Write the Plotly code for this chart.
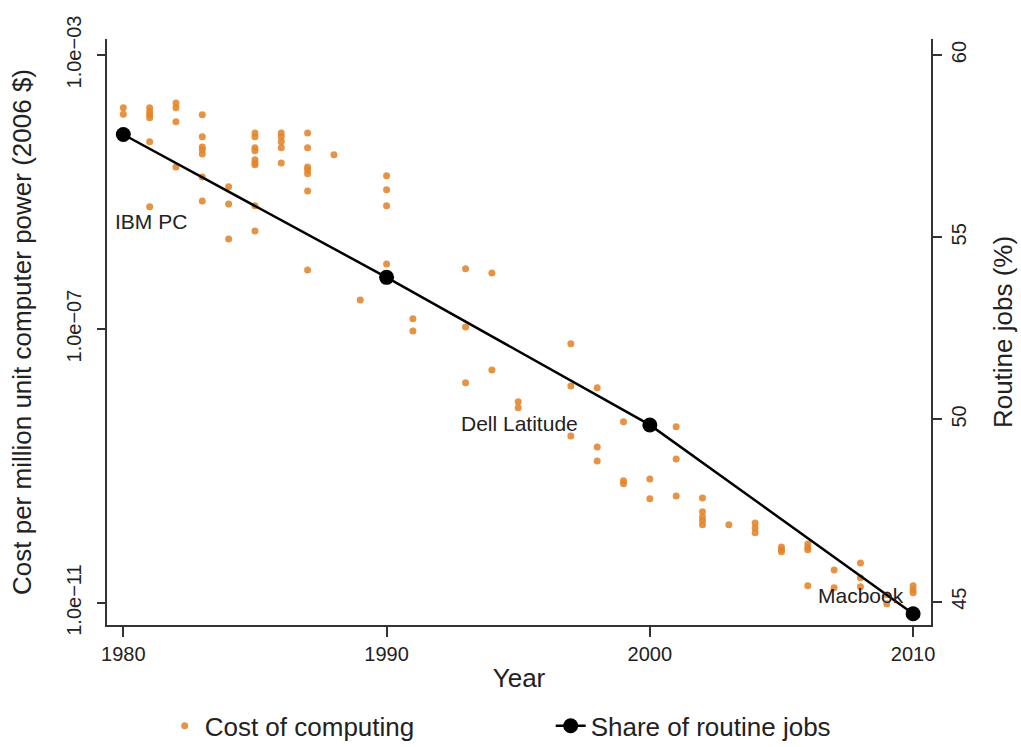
import plotly.graph_objects as go

# Cost of computing (2006 $ per million units of computer power), one entry per machine
cost_years = (
    [1980] * 2 + [1981] * 6 + [1982] * 4 + [1983] * 7 + [1984] * 3 + [1985] * 9 +
    [1986] * 5 + [1987] * 7 + [1988] * 1 + [1989] * 1 + [1990] * 4 + [1991] * 2 +
    [1993] * 3 + [1994] * 2 + [1995] * 2 + [1997] * 3 + [1998] * 3 + [1999] * 3 +
    [2000] * 2 + [2001] * 3 + [2002] * 5 + [2003] * 1 + [2004] * 3 + [2005] * 3 +
    [2006] * 4 + [2007] * 2 + [2008] * 3 + [2009] * 2 + [2010] * 3
)
cost_values = [
    1.7e-4, 1.37e-4,                                              # 1980
    1.7e-4, 1.48e-4, 1.34e-4, 1.21e-4, 5.4e-5, 6.1e-6,            # 1981
    2.0e-4, 1.7e-4, 1.06e-4, 2.32e-5,                             # 1982
    1.34e-4, 6.4e-5, 4.56e-5, 4.13e-5, 3.6e-5, 1.66e-5, 7.4e-6,   # 1983
    1.19e-5, 6.7e-6, 2.06e-6,                                     # 1984
    7.3e-5, 6.4e-5, 4.42e-5, 4.0e-5, 2.95e-5, 2.66e-5, 2.5e-5, 6.3e-6, 2.7e-6,  # 1985
    7.3e-5, 6.4e-5, 5.4e-5, 4.42e-5, 2.66e-5,                     # 1986
    7.3e-5, 4.42e-5, 2.33e-5, 2.12e-5, 1.85e-5, 1.04e-5, 7.3e-7,  # 1987
    3.5e-5,                                                       # 1988
    2.66e-7,                                                      # 1989
    1.73e-5, 1.08e-5, 6.3e-6, 8.9e-7,                             # 1990
    1.41e-7, 9.4e-8,                                              # 1991
    7.6e-7, 1.07e-7, 1.64e-8,                                     # 1993
    6.6e-7, 2.53e-8,                                              # 1994
    8.7e-9, 7.1e-9,                                               # 1995
    6.1e-8, 1.48e-8, 2.75e-9,                                     # 1997
    1.39e-8, 1.9e-9, 1.19e-9,                                     # 1998
    4.42e-9, 6.1e-10, 5.5e-10,                                    # 1999
    6.5e-10, 3.32e-10,                                            # 2000
    3.74e-9, 1.27e-9, 3.67e-10,                                   # 2001
    3.43e-10, 2.15e-10, 1.81e-10, 1.59e-10, 1.39e-10,             # 2002
    1.39e-10,                                                     # 2003
    1.48e-10, 1.25e-10, 1.06e-10,                                 # 2004
    6.6e-11, 6.0e-11, 5.6e-11,                                    # 2005
    7.3e-11, 6.4e-11, 6.0e-11, 1.79e-11,                          # 2006
    3.05e-11, 1.67e-11,                                           # 2007
    3.86e-11, 2.34e-11, 1.73e-11,                                 # 2008
    1.32e-11, 9.8e-12,                                            # 2009
    1.79e-11, 1.56e-11, 1.41e-11,                                 # 2010
]

# Share of routine jobs (%)
routine_years = [1980, 1990, 2000, 2010]
routine_share = [57.82, 53.9, 49.85, 44.67]

# Machine labels placed near the routine-jobs line
label_text = ["IBM PC", "Dell Latitude", "Macbook"]
label_year = [1979.61, 1995.03, 2008.02]
label_share = [55.42, 49.88, 45.16]
label_anchor = ["left", "center", "center"]

x_ticks = [1980, 1990, 2000, 2010]
cost_ticks = [1e-3, 1e-7, 1e-11]
cost_tick_text = ["1.0e\u221203", "1.0e\u221207", "1.0e\u221211"]
share_ticks = [45, 50, 55, 60]

FONT = "Liberation Sans, Arial, sans-serif"
INK = "#222222"
ORANGE = "rgba(226,132,42,0.88)"

fig = go.Figure()
fig.add_trace(go.Scatter(
    x=cost_years, y=cost_values, mode="markers", name="Cost of computing",
    marker=dict(size=7, color=ORANGE, line=dict(width=0)),
    yaxis="y",
))
fig.add_trace(go.Scatter(
    x=routine_years, y=routine_share, mode="lines+markers", name="Share of routine jobs",
    line=dict(color="black", width=2.5),
    marker=dict(size=15, color="black"),
    yaxis="y2",
))

for t, xv, yv, a in zip(label_text, label_year, label_share, label_anchor):
    fig.add_annotation(x=xv, y=yv, xref="x", yref="y2", text=t, showarrow=False,
                       xanchor=a, yanchor="middle",
                       font=dict(family=FONT, size=21, color=INK))

axis_common = dict(showline=True, linecolor="#333333", linewidth=1.5,
                   ticks="outside", tickwidth=1.5, tickcolor="#333333",
                   showgrid=False, zeroline=False, automargin=False)

fig.update_layout(
    width=1021, height=747,
    margin=dict(l=107, r=90, t=39, b=122, autoexpand=False),
    paper_bgcolor="white", plot_bgcolor="white",
    font=dict(family=FONT, color=INK),
    showlegend=True,
    legend=dict(orientation="h", x=0.07, xanchor="left", y=-0.172, yanchor="middle",
                font=dict(family=FONT, size=26, color=INK), entrywidth=341,
                bgcolor="rgba(0,0,0,0)"),
    xaxis=dict(range=[1979.38, 2010.68], tickvals=x_ticks, ticklen=10,
               ticklabelstandoff=0,
               tickfont=dict(family=FONT, size=20, color=INK),
               title=dict(text="Year", font=dict(family=FONT, size=26, color=INK), standoff=5),
               **axis_common),
    yaxis=dict(type="log", range=[-11.32, -2.766], tickvals=cost_ticks, ticktext=cost_tick_text,
               tickangle=-90, ticklen=8, ticklabelstandoff=8,
               tickfont=dict(family=FONT, size=20, color=INK),
               title=dict(text="Cost per million unit computer power (2006 $)",
                          font=dict(family=FONT, size=26, color=INK), standoff=24),
               **axis_common),
    yaxis2=dict(range=[44.36, 60.44], tickvals=share_ticks, overlaying="y", side="right",
                tickangle=-90, ticklen=9, ticklabelstandoff=0,
                tickfont=dict(family=FONT, size=20, color=INK),
                title=dict(text="Routine jobs (%)", font=dict(family=FONT, size=26, color=INK),
                           standoff=25),
                **axis_common),
)

fig.write_html("out.html", config={"displayModeBar": False},
               post_script="document.body.style.margin='0';")
